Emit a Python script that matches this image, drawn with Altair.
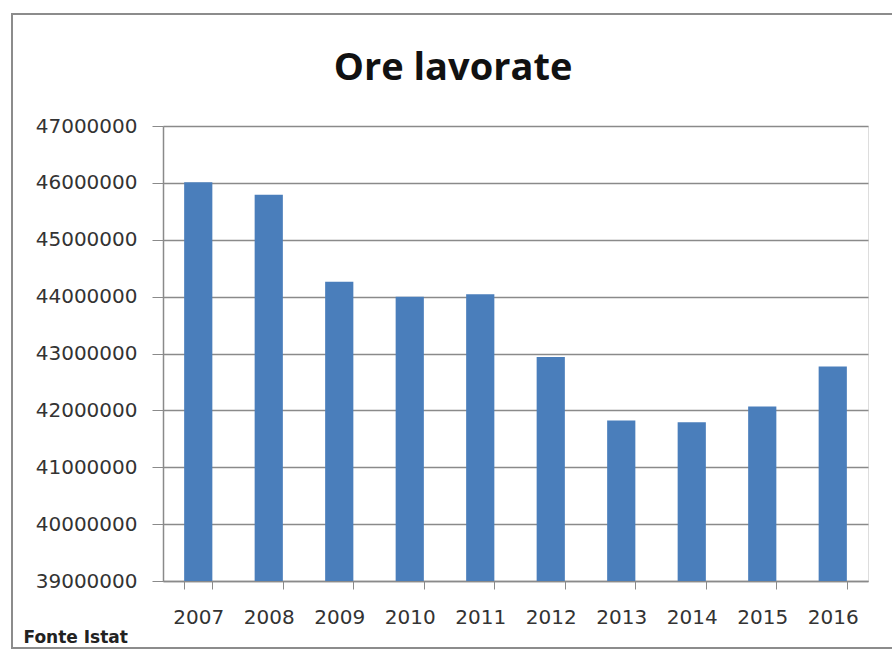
import altair as alt
import pandas as pd

years = ["2007", "2008", "2009", "2010", "2011", "2012", "2013", "2014", "2015", "2016"]
hours = [46010000, 45790000, 44260000, 44000000, 44040000, 42940000, 41820000, 41790000, 42070000, 42770000]
y_ticks = [39000000, 40000000, 41000000, 42000000, 43000000, 44000000, 45000000, 46000000, 47000000]
y_min, y_max = 39000000, 47000000

df = pd.DataFrame({"anno": years, "ore": hours})

W, H = 705, 455
GRID = "#8a8a8a"
FONT = "DejaVu Sans"

bars = alt.Chart(df).mark_bar(color="#4a7ebb").encode(
    x=alt.X("anno:N", sort=years,
            scale=alt.Scale(paddingInner=0.6, paddingOuter=0.3),
            axis=alt.Axis(title="Fonte Istat", titleFont=FONT, titleFontSize=17, titleFontWeight="bold",
                          titleColor="#222222", titleAnchor="start", titleX=-140, titleY=61,
                          titleAlign="left", titleBaseline="alphabetic",
                          labelAngle=0, labelFont=FONT, labelFontSize=20, labelColor="#333333",
                          labelPadding=18, tickBand="extent", tickSize=8, tickColor=GRID,
                          domainColor=GRID, domainWidth=1.5, grid=False)),
    y=alt.Y("ore:Q",
            scale=alt.Scale(domain=[y_min, y_max], zero=False, nice=False),
            axis=alt.Axis(title=None, values=y_ticks, format="d", labelFont=FONT, labelFontSize=20,
                          labelColor="#333333", labelPadding=15, tickSize=11, tickColor=GRID,
                          domainColor=GRID, domainWidth=1.5, gridColor=GRID, gridWidth=1.5,
                          gridOpacity=1)),
    y2=alt.Y2(datum=y_min),
)

title = alt.Chart(pd.DataFrame({"t": ["Ore lavorate"]})).mark_text(
    font="Open Sans", fontSize=38, fontWeight="bold", color="#111111",
    align="center", baseline="alphabetic"
).encode(text="t:N", x=alt.value(290), y=alt.value(-46))

border = alt.Chart(pd.DataFrame({"k": [0]})).mark_rect(
    fill=None, stroke="#8c8c8c", strokeWidth=2
).encode(x=alt.value(-151), x2=alt.value(740), y=alt.value(-112), y2=alt.value(522))

chart = alt.layer(bars, title, border).properties(
    width=W, height=H,
    autosize=alt.AutoSizeParams(type="none"),
    padding={"left": 163, "top": 126, "right": 24, "bottom": 69},
).configure_view(stroke=None).configure(background="white")

chart.save("out.html", embed_options={"renderer": "svg", "actions": False})
